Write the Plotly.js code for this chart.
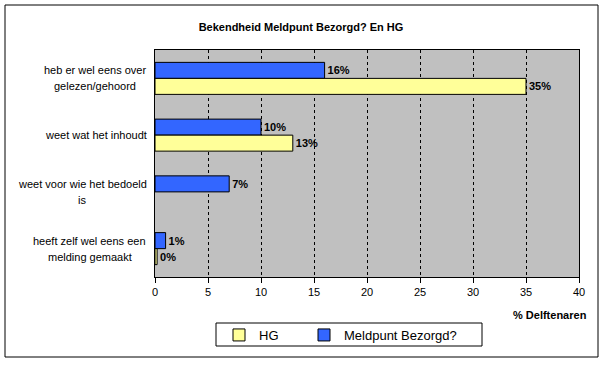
<!DOCTYPE html>
<html>
<head>
<meta charset="utf-8">
<script src="https://cdn.plot.ly/plotly-3.0.1.min.js"></script>
<style>
html,body{margin:0;padding:0;background:#fff;}
#chart{width:603px;height:366px;}
</style>
</head>
<body>
<div id="chart"></div>
<script>
// ---- data ----
const categories = [
  "heb er wel eens over<br>gelezen/gehoord",
  "weet wat het inhoudt",
  "weet voor wie het bedoeld<br>is",
  "heeft zelf wel eens een<br>melding gemaakt"
];
const meldpuntValues = [16, 10, 7, 1];
const hgValues = [35, 13, null, 0.2];
const xTickValues = [0, 5, 10, 15, 20, 25, 30, 35, 40];
const seriesNames = ["Meldpunt Bezorgd?", "HG"];
const chartTitle = "Bekendheid Meldpunt Bezorgd? En HG";
const xAxisTitle = "% Delftenaren";

// ---- layout helpers ----
const FONT = "'Liberation Sans', Arial, sans-serif";
const W = 603, H = 366;
const M = {l: 155, r: 24, t: 50, b: 89};
const PW = W - M.l - M.r, PH = H - M.t - M.b;
const fx = px => (px - M.l) / PW;
const fy = py => (H - M.b - py) / PH;

const canvas = document.createElement('canvas');
const ctx = canvas.getContext('2d');
ctx.font = "11px 'Liberation Sans'";

const annotations = [];
categories.forEach(cat => {
  const lines = cat.split('<br>');
  const widths = lines.map(s => ctx.measureText(s).width);
  const bw = Math.max(...widths);
  const n = lines.length;
  lines.forEach((line, i) => {
    annotations.push({
      xref: 'paper', yref: 'y', x: 0, y: cat,
      text: line, showarrow: false,
      xanchor: 'center', yanchor: 'middle',
      xshift: -9 - bw / 2,
      yshift: ((n - 1) / 2 - i) * 16,
      font: {family: FONT, size: 11, color: '#000'}
    });
  });
});
annotations.push({
  xref: 'paper', yref: 'paper', x: fx(589), y: fy(315),
  xanchor: 'right', yanchor: 'middle', showarrow: false,
  text: xAxisTitle,
  font: {family: FONT, size: 11, color: '#000', weight: 'bold'}
});

const barText = {family: FONT, size: 11, color: '#000', weight: 'bold'};
const traces = [
  {
    type: 'bar', orientation: 'h', name: seriesNames[0], legend: 'legend2',
    y: categories, x: meldpuntValues,
    marker: {color: '#3366FF', line: {color: '#000', width: 1}},
    texttemplate: '%{x:.0f}%', textposition: 'outside',
    textfont: barText, cliponaxis: false, constraintext: 'none',
    hoverinfo: 'skip'
  },
  {
    type: 'bar', orientation: 'h', name: seriesNames[1], legend: 'legend',
    y: categories, x: hgValues,
    marker: {color: '#FFFF99', line: {color: '#000', width: 1}},
    texttemplate: '%{x:.0f}%', textposition: 'outside',
    textfont: barText, cliponaxis: false, constraintext: 'none',
    hoverinfo: 'skip'
  }
];

const legendBase = {
  orientation: 'h',
  xanchor: 'left', y: fy(320), yanchor: 'top',
  bgcolor: 'rgba(0,0,0,0)', borderwidth: 0,
  font: {family: FONT, size: 13, color: '#000'},
  itemclick: false, itemdoubleclick: false
};

const layout = {
  width: W, height: H,
  margin: M,
  paper_bgcolor: '#fff',
  plot_bgcolor: '#C0C0C0',
  font: {family: FONT, size: 11, color: '#000'},
  title: {
    text: chartTitle, x: 301 / W, xanchor: 'center',
    y: 1 - 27 / H, yanchor: 'middle',
    font: {family: FONT, size: 11, color: '#000', weight: 'bold'}
  },
  barmode: 'group',
  bargap: 0.436,
  bargroupgap: 0,
  xaxis: {
    range: [0, 40], tickvals: xTickValues, ticktext: xTickValues.map(String),
    ticks: 'outside', ticklen: 5, tickcolor: '#000', tickwidth: 1,
    showline: true, linecolor: '#000', linewidth: 1, mirror: true,
    showgrid: true, gridcolor: '#000', gridwidth: 1, griddash: '3px,3px',
    zeroline: false,
    tickfont: {family: FONT, size: 11, color: '#000'},
    fixedrange: true
  },
  yaxis: {
    type: 'category', autorange: 'reversed',
    showticklabels: false, ticks: '',
    showline: true, linecolor: '#000', linewidth: 1, mirror: true,
    showgrid: false, zeroline: false, fixedrange: true
  },
  showlegend: true,
  legend: Object.assign({}, legendBase, {x: fx(219)}),
  legend2: Object.assign({}, legendBase, {x: fx(304)}),
  annotations: annotations,
  shapes: [
    {type: 'rect', xref: 'paper', yref: 'paper', layer: 'below',
     x0: fx(5), x1: fx(598), y0: fy(357), y1: fy(5),
     line: {color: '#000', width: 1}, fillcolor: 'rgba(0,0,0,0)'},
    {type: 'rect', xref: 'paper', yref: 'paper', layer: 'below',
     x0: fx(216), x1: fx(482), y0: fy(346), y1: fy(323),
     line: {color: '#000', width: 1}, fillcolor: '#fff'}
  ]
};

Plotly.newPlot('chart', traces, layout, {staticPlot: true, displayModeBar: false});
</script>
</body>
</html>
